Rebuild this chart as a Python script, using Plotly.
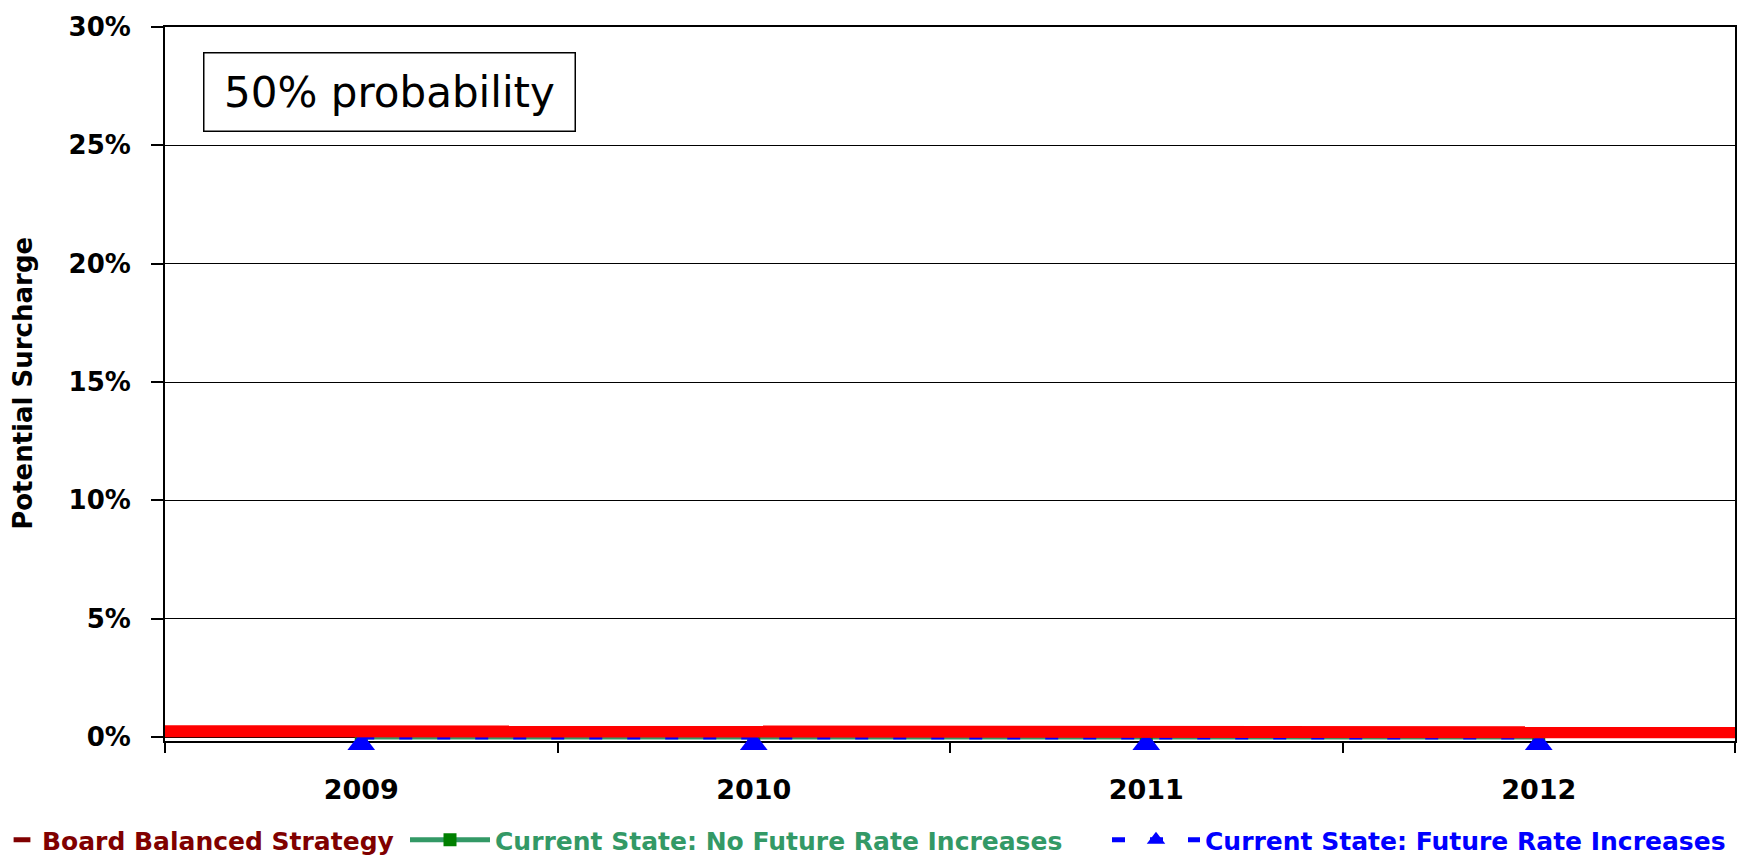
import plotly.graph_objects as go

# Potential surcharge by year for each rate strategy
years = ["2009", "2010", "2011", "2012"]
board_balanced = [0.0025, 0.0024, 0.0022, 0.0020]
no_future_increases = [0.0, 0.0, 0.0, 0.0]
future_increases = [0.0, 0.0, 0.0, 0.0]
y_ticks = [0.0, 0.05, 0.10, 0.15, 0.20, 0.25, 0.30]

W, H = 1753, 855
L, R, T, B = 165, 18, 19, 113
PW, PH = W - L - R, H - T - B
FONT = "DejaVu Sans"

BLUE_LINE = dict(color="#0000FF", width=5, dash="13px,25px")

fig = go.Figure()

fig.add_trace(go.Scatter(
    x=years, y=no_future_increases,
    name="Current State: No Future Rate Increases",
    mode="lines+markers",
    line=dict(color="#339966", width=5),
    marker=dict(symbol="square", size=13, color="#008000"),
    cliponaxis=False, legend="legend2",
))
# triangles hang just below the zero line
fig.add_trace(go.Scatter(
    x=years, y=future_increases,
    name="Current State: Future Rate Increases",
    mode="lines+markers",
    line=BLUE_LINE,
    marker=dict(symbol="triangle-up", angle=0, standoff=7, size=24, color="#0000FF"),
    cliponaxis=False, showlegend=False,
))
# Board strategy runs edge to edge on a hidden "on tick marks" axis
fig.add_trace(go.Scatter(
    x=years, y=board_balanced, xaxis="x2",
    name="Board Balanced Strategy",
    mode="lines",
    line=dict(color="#FF0000", width=12),
    showlegend=False,
))
# legend swatches
fig.add_trace(go.Scatter(
    x=[None], y=[None], xaxis="x2",
    name="Board Balanced Strategy",
    mode="markers",
    marker=dict(symbol="line-ew", size=12, line=dict(color="#800000", width=6)),
    legend="legend",
))
fig.add_trace(go.Scatter(
    x=[None], y=[None], xaxis="x2",
    name="Current State: Future Rate Increases",
    mode="lines+markers",
    line=BLUE_LINE,
    marker=dict(symbol="triangle-up", size=16, color="#0000FF"),
    legend="legend3",
))

def legend_box(x_px, color, item_width):
    return dict(
        x=x_px / W, xref="container", xanchor="left",
        y=1 - 840 / H, yref="container", yanchor="middle",
        orientation="h",
        font=dict(family=FONT, size=25, color=color, weight="bold"),
        itemwidth=item_width,
        bgcolor="rgba(0,0,0,0)", borderwidth=0,
    )

fig.update_layout(
    width=W, height=H,
    margin=dict(l=L, r=R, t=T, b=B, pad=0),
    paper_bgcolor="white", plot_bgcolor="white",
    font=dict(family=FONT, color="black"),
    xaxis=dict(
        type="category", categoryorder="array", categoryarray=years,
        range=[-0.5, 3.5],
        showgrid=False, zeroline=False,
        showline=True, linecolor="black", linewidth=2, mirror=True,
        ticks="outside", tickson="boundaries", ticklen=10, tickwidth=1.5, tickcolor="black",
        tickfont=dict(family=FONT, size=27, color="black", weight="bold"),
        ticklabelstandoff=24,
        layer="below traces",
    ),
    xaxis2=dict(
        type="category", categoryorder="array", categoryarray=years,
        range=[0, 3], overlaying="x", visible=False,
    ),
    yaxis=dict(
        range=[-0.0015, 0.30],
        tickvals=y_ticks, tickformat=".0%",
        showgrid=True, gridcolor="black", gridwidth=1.2,
        zeroline=False,
        showline=True, linecolor="black", linewidth=2, mirror=True,
        ticks="outside", ticklen=12, tickwidth=1.5, tickcolor="black",
        tickfont=dict(family=FONT, size=26, color="black", weight="bold"),
        ticklabelstandoff=15,
        layer="below traces",
    ),
    legend=legend_box(2, "#800000", 30),
    legend2=legend_box(405, "#339966", 80),
    legend3=legend_box(1107, "#0000FF", 88),
    showlegend=True,
    annotations=[
        dict(
            text="Potential Surcharge", textangle=-90,
            xref="paper", yref="paper",
            x=(23 - L) / PW, y=0.5, xanchor="center", yanchor="middle",
            showarrow=False,
            font=dict(family=FONT, size=26, color="black", weight="bold"),
        ),
        dict(
            text="50% probability",
            xref="paper", yref="paper",
            x=(203 - L) / PW, y=1 - (44 - T) / PH, xanchor="left", yanchor="top",
            showarrow=False,
            width=370, height=77, align="center", valign="middle",
            bordercolor="black", borderwidth=1.5, borderpad=0,
            bgcolor="white",
            font=dict(family=FONT, size=42, color="black"),
        ),
    ],
)

fig.write_html("out.html")
